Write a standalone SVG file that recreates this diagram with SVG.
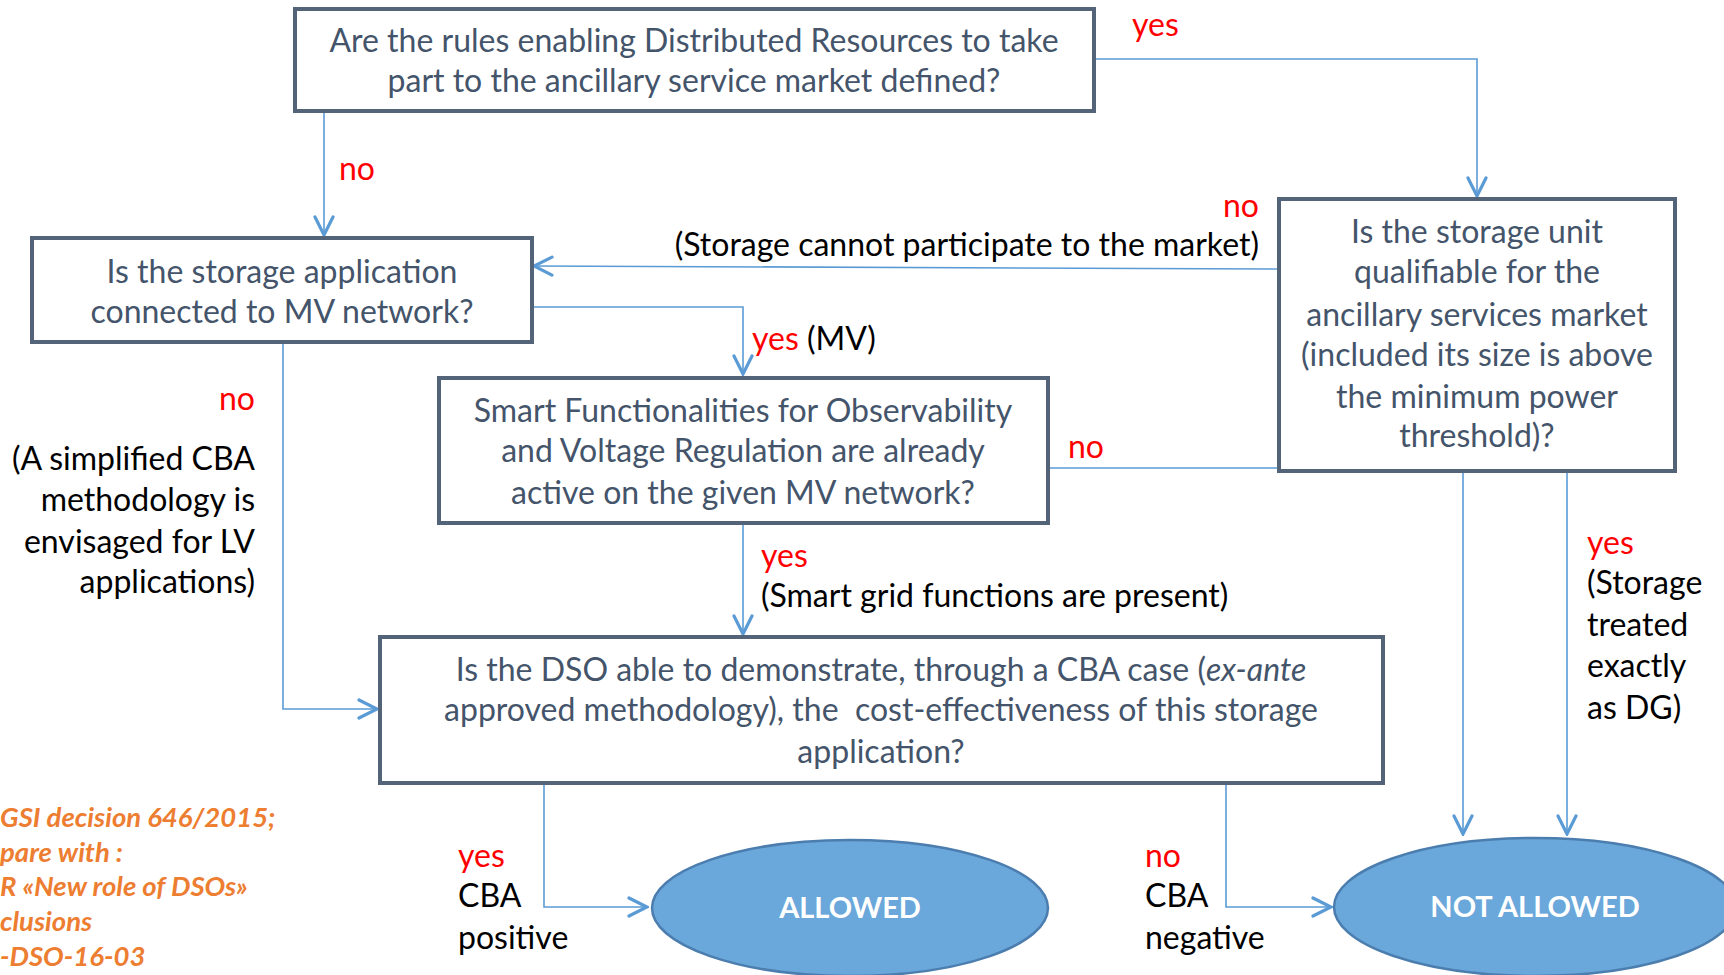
<svg xmlns="http://www.w3.org/2000/svg" width="1724" height="975" viewBox="0 0 1724 975">
<defs>
<style>
.box{fill:#fff;stroke:#536478;stroke-width:4}
.bt{font-family:Lato,"Liberation Sans",sans-serif;font-size:32px;fill:#44546A;text-anchor:middle}
.lbl{font-family:Lato,"Liberation Sans",sans-serif;font-size:32px;fill:#000}
.red{fill:#FF0000}
.con{fill:none;stroke:#5B9BD5;stroke-width:1.6}
.ell{fill:#6AA7DA;stroke:#4B7DAE;stroke-width:2.5}
.et{font-family:Lato,"Liberation Sans",sans-serif;font-size:29px;font-weight:bold;fill:#fff;text-anchor:middle}
.note{font-family:Lato,"Liberation Sans",sans-serif;font-size:27.5px;font-weight:bold;font-style:italic;fill:#ED7D31}
</style>
<marker id="arr" viewBox="0 0 22 22" refX="20" refY="11" markerWidth="22" markerHeight="22" markerUnits="userSpaceOnUse" orient="auto">
<path d="M2,2 L20,11 L2,20" fill="none" stroke="#5B9BD5" stroke-width="3.2" stroke-linecap="round"/>
</marker>
</defs>
<rect width="1724" height="975" fill="#fff"/>

<g id="connectors">
<polyline class="con" points="1094,59 1477,59 1477,196" marker-end="url(#arr)"/>
<polyline class="con" points="324,107 324,235" marker-end="url(#arr)"/>
<polyline class="con" points="1279,269 534,266" marker-end="url(#arr)"/>
<polyline class="con" points="532,307 743,307 743,374" marker-end="url(#arr)"/>
<polyline class="con" points="283,342 283,709 377,709" marker-end="url(#arr)"/>
<polyline class="con" points="743,523 743,634" marker-end="url(#arr)"/>
<polyline class="con" points="1048,468 1463,468 1463,834" marker-end="url(#arr)"/>
<polyline class="con" points="1567,460 1567,834" marker-end="url(#arr)"/>
<polyline class="con" points="544,778 544,907 647,907" marker-end="url(#arr)"/>
<polyline class="con" points="1226,778 1226,907 1331,907" marker-end="url(#arr)"/>
</g>

<g id="q1">
<rect class="box" x="295" y="9" width="799" height="102"/>
<text class="bt" x="694" y="52">Are the rules enabling Distributed Resources to take</text>
<text class="bt" x="694" y="92">part to the ancillary service market defined?</text>
</g>

<g id="q2">
<rect class="box" x="32" y="238" width="500" height="104"/>
<text class="bt" x="282" y="283">Is the storage application</text>
<text class="bt" x="282" y="323">connected to MV network?</text>
</g>

<g id="q3">
<rect class="box" x="439" y="378" width="609" height="145"/>
<text class="bt" x="743" y="422">Smart Functionalities for Observability</text>
<text class="bt" x="743" y="462">and Voltage Regulation are already</text>
<text class="bt" x="743" y="504">active on the given MV network?</text>
</g>

<g id="q4">
<rect class="box" x="1279" y="199" width="396" height="272"/>
<text class="bt" x="1477" y="243">Is the storage unit</text>
<text class="bt" x="1477" y="283">qualifiable for the</text>
<text class="bt" x="1477" y="326">ancillary services market</text>
<text class="bt" x="1477" y="366">(included its size is above</text>
<text class="bt" x="1477" y="408">the minimum power</text>
<text class="bt" x="1477" y="447">threshold)?</text>
</g>

<g id="q5">
<rect class="box" x="380" y="637" width="1003" height="146"/>
<text class="bt" x="881" y="681">Is the DSO able to demonstrate, through a CBA case (<tspan font-style="italic">ex-ante</tspan></text>
<text class="bt" x="881" y="721" xml:space="preserve">approved methodology), the  cost-effectiveness of this storage</text>
<text class="bt" x="881" y="763">application?</text>
</g>

<g id="allowed">
<ellipse class="ell" cx="850" cy="908" rx="198" ry="68"/>
<text class="et" x="850" y="918">ALLOWED</text>
</g>

<g id="notallowed">
<ellipse class="ell" cx="1535" cy="907" rx="201" ry="69"/>
<text class="et" x="1535" y="917">NOT ALLOWED</text>
</g>

<g id="labels">
<text class="lbl red" x="1132" y="36">yes</text>
<text class="lbl red" x="339" y="180">no</text>
<text class="lbl red" x="1259" y="217" text-anchor="end">no</text>
<text class="lbl" x="1259" y="256" text-anchor="end">(Storage cannot participate to the market)</text>
<text class="lbl" x="752" y="350"><tspan class="red">yes</tspan> (MV)</text>
<text class="lbl red" x="255" y="410" text-anchor="end">no</text>
<text class="lbl" text-anchor="end"><tspan x="255" y="470">(A simplified CBA</tspan><tspan x="255" y="511">methodology is</tspan><tspan x="255" y="553">envisaged for LV</tspan><tspan x="255" y="593">applications)</tspan></text>
<text class="lbl red" x="1068" y="458">no</text>
<text class="lbl red" x="761" y="567">yes</text>
<text class="lbl" x="761" y="607">(Smart grid functions are present)</text>
<text class="lbl red" x="1587" y="554">yes</text>
<text class="lbl"><tspan x="1587" y="594">(Storage</tspan><tspan x="1587" y="636">treated</tspan><tspan x="1587" y="677">exactly</tspan><tspan x="1587" y="719">as DG)</tspan></text>
<text class="lbl red" x="458" y="867">yes</text>
<text class="lbl"><tspan x="458" y="907">CBA</tspan><tspan x="458" y="949">positive</tspan></text>
<text class="lbl red" x="1145" y="867">no</text>
<text class="lbl"><tspan x="1145" y="907">CBA</tspan><tspan x="1145" y="949">negative</tspan></text>
</g>

<g id="note">
<text class="note"><tspan x="0" y="827">GSI decision 646/2015;</tspan><tspan x="0" y="862">pare with :</tspan><tspan x="0" y="896">R «New role of DSOs»</tspan><tspan x="0" y="931">clusions</tspan><tspan x="0" y="966">-DSO-16-03</tspan></text>
</g>
</svg>
